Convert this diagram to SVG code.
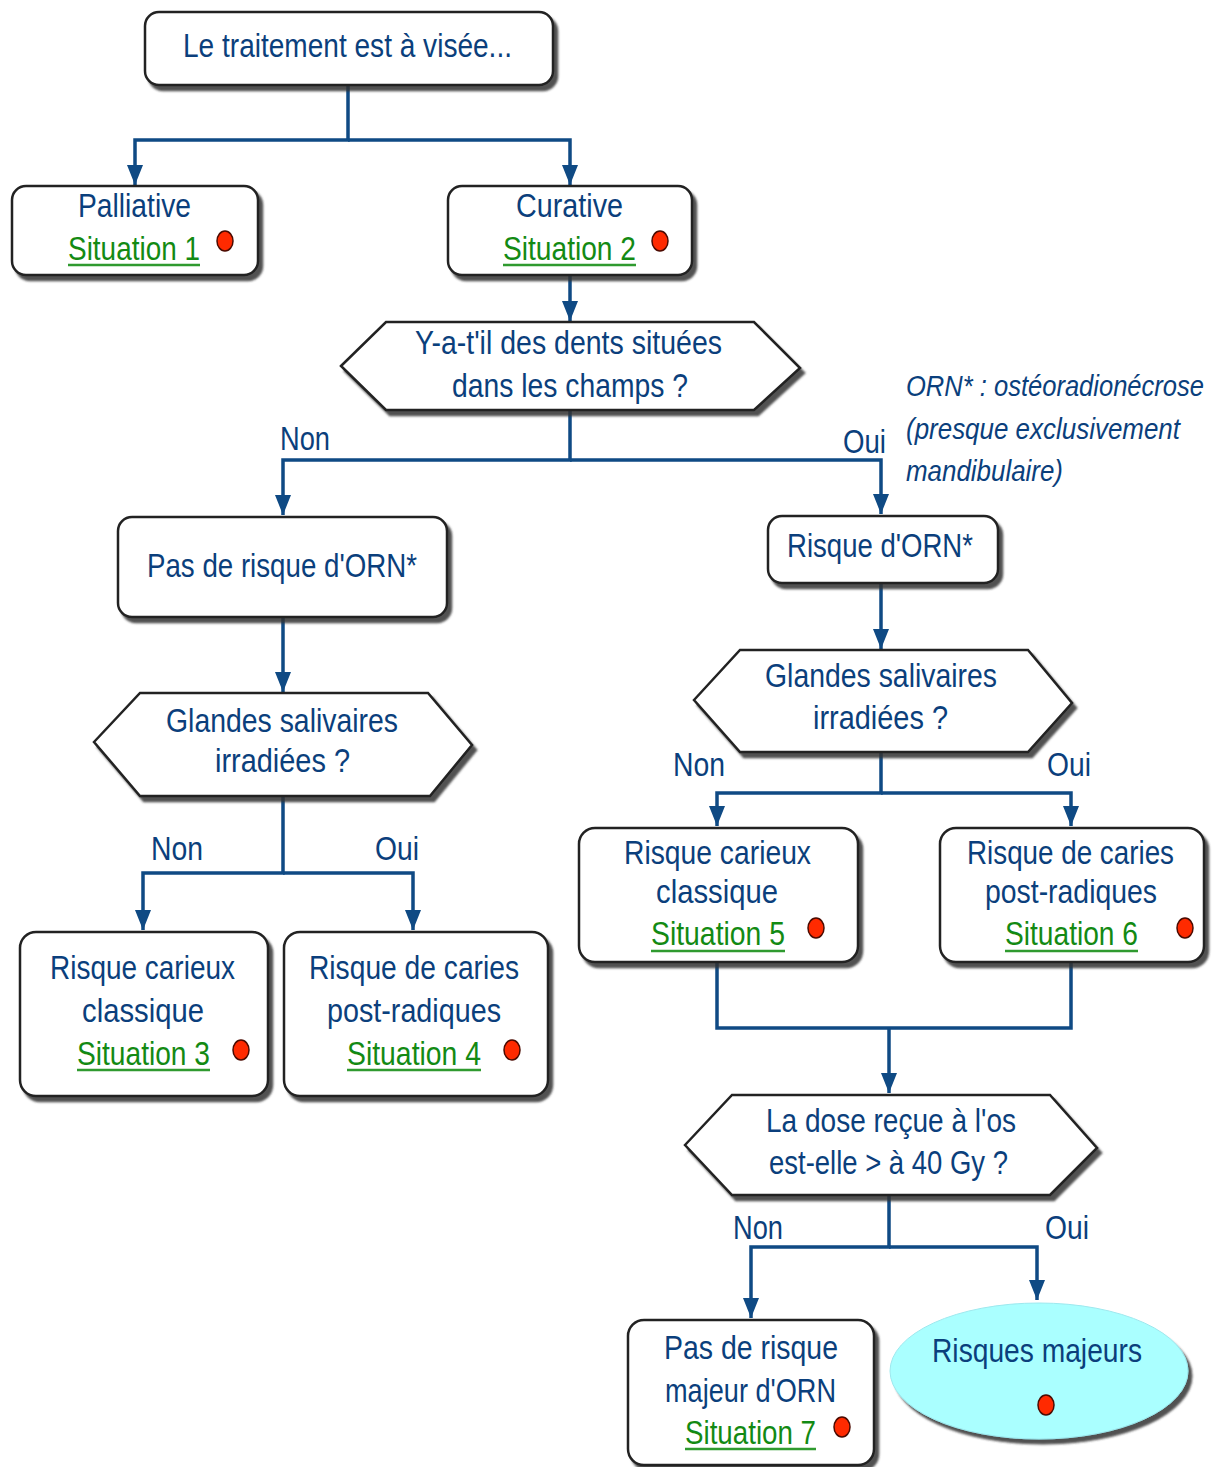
<svg xmlns="http://www.w3.org/2000/svg" width="1219" height="1467" viewBox="0 0 1219 1467">
<defs>
<style>
.box{fill:#fff;stroke:#222;stroke-width:2.5;filter:url(#sh)}
.t{font-family:"Liberation Sans",Arial,sans-serif;font-size:34px;fill:#0b3f7c}
.it{font-style:italic;font-size:26px}
.sit{font-family:"Liberation Sans",Arial,sans-serif;font-size:34px;fill:#138a13}
.ul{stroke:#2f9a2f;stroke-width:2.5}
.dot{fill:#ff2a00;stroke:#4a0a00;stroke-width:1.5}
.c{fill:none;stroke:#0f4a84;stroke-width:3.5;marker-end:url(#ah)}
.cn{fill:none;stroke:#0f4a84;stroke-width:3.5}
</style>
<filter id="sh" x="-10%" y="-10%" width="125%" height="130%">
<feDropShadow dx="4" dy="5" stdDeviation="1.2" flood-color="#333" flood-opacity="0.85"/>
</filter>
<marker id="ah" viewBox="0 0 20 18" refX="20" refY="9" markerWidth="20" markerHeight="18" markerUnits="userSpaceOnUse" orient="auto">
<path d="M0,1 L20,9 L0,17 z" fill="#0f4a84"/>
</marker>
</defs>
<rect width="1219" height="1467" fill="#fff"/>

<g id="connectors">
<path class="c" d="M348,85 V140 H135 V185"/>
<path class="c" d="M348,140 H570 V185"/>
<path class="c" d="M570,275 V321"/>
<path class="c" d="M570,410 V460 H283 V515"/>
<path class="c" d="M570,460 H881 V514"/>
<path class="c" d="M283,617 V692"/>
<path class="c" d="M881,583 V649"/>
<path class="c" d="M283,796 V873 H143 V930"/>
<path class="c" d="M283,873 H413 V930"/>
<path class="c" d="M881,752 V793 H717 V826"/>
<path class="c" d="M881,793 H1071 V826"/>
<path class="cn" d="M717,962 V1028 H1071 V962"/>
<path class="c" d="M889,1028 V1093"/>
<path class="c" d="M889,1195 V1247 H751 V1318"/>
<path class="c" d="M889,1247 H1037 V1300"/>
<text class="t" x="280" y="450" textLength="50" lengthAdjust="spacingAndGlyphs">Non</text>
<text class="t" x="843" y="453" textLength="43" lengthAdjust="spacingAndGlyphs">Oui</text>
<text class="t" x="151" y="860" textLength="52" lengthAdjust="spacingAndGlyphs">Non</text>
<text class="t" x="375" y="860" textLength="44" lengthAdjust="spacingAndGlyphs">Oui</text>
<text class="t" x="673" y="776" textLength="52" lengthAdjust="spacingAndGlyphs">Non</text>
<text class="t" x="1047" y="776" textLength="44" lengthAdjust="spacingAndGlyphs">Oui</text>
<text class="t" x="733" y="1239" textLength="50" lengthAdjust="spacingAndGlyphs">Non</text>
<text class="t" x="1045" y="1239" textLength="44" lengthAdjust="spacingAndGlyphs">Oui</text>
</g>

<g id="n-top">
<rect class="box" x="145" y="12" width="408" height="73" rx="14"/>
<text class="t" x="183" y="57" textLength="329" lengthAdjust="spacingAndGlyphs">Le traitement est à visée...</text>
</g>

<g id="n-palliative">
<rect class="box" x="12" y="186" width="246" height="89" rx="14"/>
<text class="t" x="78" y="217" textLength="113" lengthAdjust="spacingAndGlyphs">Palliative</text>
<text class="sit" x="68" y="260" textLength="132" lengthAdjust="spacingAndGlyphs">Situation 1</text>
<line class="ul" x1="68" y1="265" x2="200" y2="265"/>
<ellipse class="dot" cx="225" cy="241" rx="8" ry="10"/>
</g>

<g id="n-curative">
<rect class="box" x="448" y="186" width="244" height="89" rx="14"/>
<text class="t" x="516" y="217" textLength="107" lengthAdjust="spacingAndGlyphs">Curative</text>
<text class="sit" x="503" y="260" textLength="133" lengthAdjust="spacingAndGlyphs">Situation 2</text>
<line class="ul" x1="503" y1="265" x2="636" y2="265"/>
<ellipse class="dot" cx="660" cy="241" rx="8" ry="10"/>
</g>

<g id="n-dents">
<polygon class="box" points="341,366 386,322 754,322 800,368 754,410 386,410"/>
<text class="t" x="415" y="354" textLength="307" lengthAdjust="spacingAndGlyphs">Y-a-t'il des dents situées</text>
<text class="t" x="452" y="397" textLength="236" lengthAdjust="spacingAndGlyphs">dans les champs ?</text>
</g>

<g id="note">
<text class="t it" x="906" y="0" transform="translate(0,396) scale(1,1.15)" textLength="298" lengthAdjust="spacingAndGlyphs">ORN* : ostéoradionécrose</text>
<text class="t it" x="906" y="0" transform="translate(0,439) scale(1,1.15)" textLength="274" lengthAdjust="spacingAndGlyphs">(presque exclusivement</text>
<text class="t it" x="906" y="0" transform="translate(0,481) scale(1,1.15)" textLength="157" lengthAdjust="spacingAndGlyphs">mandibulaire)</text>
</g>

<g id="n-pasrisque">
<rect class="box" x="118" y="517" width="329" height="100" rx="14"/>
<text class="t" x="147" y="577" textLength="270" lengthAdjust="spacingAndGlyphs">Pas de risque d'ORN*</text>
</g>

<g id="n-risqueorn">
<rect class="box" x="768" y="516" width="230" height="67" rx="14"/>
<text class="t" x="787" y="557" textLength="186" lengthAdjust="spacingAndGlyphs">Risque d'ORN*</text>
</g>

<g id="n-glandes-l">
<polygon class="box" points="94,742 140,693 428,693 472,745 430,796 140,796"/>
<text class="t" x="166" y="732" textLength="232" lengthAdjust="spacingAndGlyphs">Glandes salivaires</text>
<text class="t" x="215" y="772" textLength="135" lengthAdjust="spacingAndGlyphs">irradiées ?</text>
</g>

<g id="n-glandes-r">
<polygon class="box" points="694,700 740,650 1028,650 1072,703 1028,752 740,752"/>
<text class="t" x="765" y="687" textLength="232" lengthAdjust="spacingAndGlyphs">Glandes salivaires</text>
<text class="t" x="813" y="729" textLength="135" lengthAdjust="spacingAndGlyphs">irradiées ?</text>
</g>

<g id="n-sit3">
<rect class="box" x="20" y="932" width="248" height="164" rx="16"/>
<text class="t" x="50" y="979" textLength="185" lengthAdjust="spacingAndGlyphs">Risque carieux</text>
<text class="t" x="82" y="1022" textLength="122" lengthAdjust="spacingAndGlyphs">classique</text>
<text class="sit" x="77" y="1065" textLength="133" lengthAdjust="spacingAndGlyphs">Situation 3</text>
<line class="ul" x1="77" y1="1070" x2="210" y2="1070"/>
<ellipse class="dot" cx="241" cy="1050" rx="8" ry="10"/>
</g>

<g id="n-sit4">
<rect class="box" x="284" y="932" width="264" height="164" rx="16"/>
<text class="t" x="309" y="979" textLength="210" lengthAdjust="spacingAndGlyphs">Risque de caries</text>
<text class="t" x="327" y="1022" textLength="174" lengthAdjust="spacingAndGlyphs">post-radiques</text>
<text class="sit" x="347" y="1065" textLength="134" lengthAdjust="spacingAndGlyphs">Situation 4</text>
<line class="ul" x1="347" y1="1070" x2="481" y2="1070"/>
<ellipse class="dot" cx="512" cy="1050" rx="8" ry="10"/>
</g>

<g id="n-sit5">
<rect class="box" x="579" y="828" width="279" height="134" rx="16"/>
<text class="t" x="624" y="864" textLength="187" lengthAdjust="spacingAndGlyphs">Risque carieux</text>
<text class="t" x="656" y="903" textLength="122" lengthAdjust="spacingAndGlyphs">classique</text>
<text class="sit" x="651" y="945" textLength="134" lengthAdjust="spacingAndGlyphs">Situation 5</text>
<line class="ul" x1="651" y1="951" x2="785" y2="951"/>
<ellipse class="dot" cx="816" cy="928" rx="8" ry="10"/>
</g>

<g id="n-sit6">
<rect class="box" x="940" y="828" width="264" height="134" rx="16"/>
<text class="t" x="967" y="864" textLength="207" lengthAdjust="spacingAndGlyphs">Risque de caries</text>
<text class="t" x="985" y="903" textLength="172" lengthAdjust="spacingAndGlyphs">post-radiques</text>
<text class="sit" x="1005" y="945" textLength="133" lengthAdjust="spacingAndGlyphs">Situation 6</text>
<line class="ul" x1="1005" y1="951" x2="1138" y2="951"/>
<ellipse class="dot" cx="1185" cy="928" rx="8" ry="10"/>
</g>

<g id="n-dose">
<polygon class="box" points="685,1145 732,1095 1050,1095 1097,1148 1050,1195 732,1195"/>
<text class="t" x="766" y="1132" textLength="250" lengthAdjust="spacingAndGlyphs">La dose reçue à l'os</text>
<text class="t" x="769" y="1174" textLength="239" lengthAdjust="spacingAndGlyphs">est-elle &gt; à 40 Gy ?</text>
</g>

<g id="n-sit7">
<rect class="box" x="628" y="1320" width="246" height="145" rx="16"/>
<text class="t" x="664" y="1359" textLength="174" lengthAdjust="spacingAndGlyphs">Pas de risque</text>
<text class="t" x="665" y="1402" textLength="171" lengthAdjust="spacingAndGlyphs">majeur d'ORN</text>
<text class="sit" x="685" y="1444" textLength="131" lengthAdjust="spacingAndGlyphs">Situation 7</text>
<line class="ul" x1="685" y1="1449" x2="816" y2="1449"/>
<ellipse class="dot" cx="842" cy="1427" rx="8" ry="10"/>
</g>

<g id="n-majeurs">
<ellipse cx="1039" cy="1371" rx="149" ry="68" fill="#aaffff" stroke="#9de8ee" stroke-width="1" filter="url(#sh)"/>
<text class="t" x="932" y="1362" textLength="210" lengthAdjust="spacingAndGlyphs">Risques majeurs</text>
<ellipse class="dot" cx="1046" cy="1405" rx="8" ry="10"/>
</g>
</svg>
